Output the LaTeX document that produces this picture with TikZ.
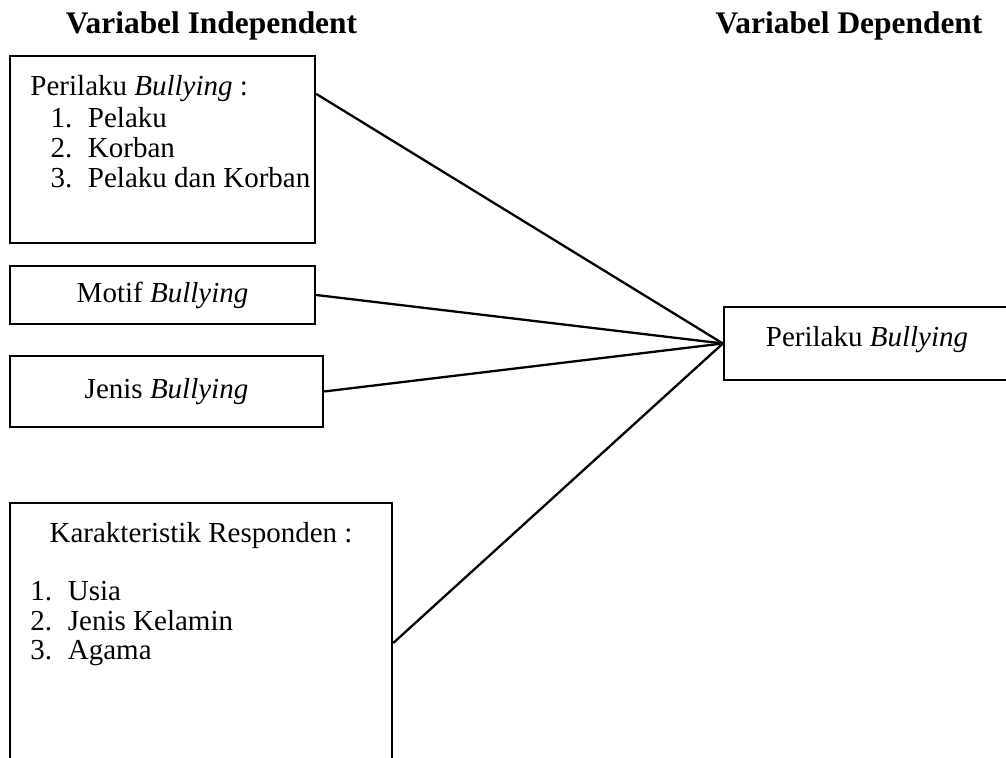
\documentclass[tikz,border=0pt]{standalone}
\usepackage{fontspec}
\setmainfont{Liberation Serif}
\newcommand{\numitem}[1]{\makebox[15.5pt][l]{#1}}

\begin{document}
\begin{tikzpicture}[
    font=\fontsize{12pt}{12.4pt}\selectfont,
    varBox/.style={
        rectangle,
        draw=black,
        line width=0.95pt,
        align=center,
        inner sep=0pt
    },
    listText/.style={
        align=left,
        inner sep=0pt,
        anchor=base west
    },
    headText/.style={
        font=\fontsize{13pt}{15pt}\selectfont\bfseries,
        inner sep=0pt,
        anchor=base
    },
    linkLine/.style={
        line width=0.95pt,
        draw=black
    }
]

\useasboundingbox (0,0) rectangle (14.627,-11.007);
\clip (0,0) rectangle (14.627,-11.007);

% ==================== HEADERS ====================
\node[headText] (headIndep) at (3.075,-0.494) {Variabel Independent};
\node[headText] (headDep) at (12.344,-0.494) {Variabel Dependent};

% ==================== INDEPENDENT VARIABLES ====================
% list nodes sit on the baseline of their last line
\node[varBox, minimum width=4.435cm, minimum height=2.719cm] (boxPerilaku) at (2.363,-2.174) {};
\node[listText] (txtPerilaku) at (0.436,-2.719) {Perilaku \textit{Bullying} :\\[0.8pt]
    \hspace*{8.3pt}\numitem{1.}Pelaku\\
    \hspace*{8.3pt}\numitem{2.}Korban\\
    \hspace*{8.3pt}\numitem{3.}Pelaku dan Korban};

\node[varBox, minimum width=4.435cm, minimum height=0.843cm] (boxMotif) at (2.363,-4.289) {Motif \textit{Bullying}};
\node[varBox, minimum width=4.551cm, minimum height=1.033cm] (boxJenis) at (2.421,-5.692) {Jenis \textit{Bullying}};

\node[varBox, minimum width=5.555cm, minimum height=4.071cm] (boxKarakter) at (2.923,-9.349) {};
\node[inner sep=0pt, anchor=base] (txtKarakterHead) at (2.923,-7.881) {Karakteristik Responden :};
\node[listText] (txtKarakter) at (0.436,-9.596) {\numitem{1.}Usia\\
    \numitem{2.}Jenis Kelamin\\
    \numitem{3.}Agama};

% ==================== DEPENDENT VARIABLE ====================
\node[varBox, minimum width=4.158cm, minimum height=1.061cm, text depth=6pt] (boxTarget) at (12.606,-4.994) {Perilaku \textit{Bullying}};

% ==================== LINKS ====================
\draw[linkLine] ([yshift=-0.567cm]boxPerilaku.north east) -- (boxTarget.west);
\draw[linkLine] (boxMotif.east) -- (boxTarget.west);
\draw[linkLine] (boxJenis.east) -- (boxTarget.west);
\draw[linkLine] (boxKarakter.east) -- (boxTarget.west);

\end{tikzpicture}
\end{document}
